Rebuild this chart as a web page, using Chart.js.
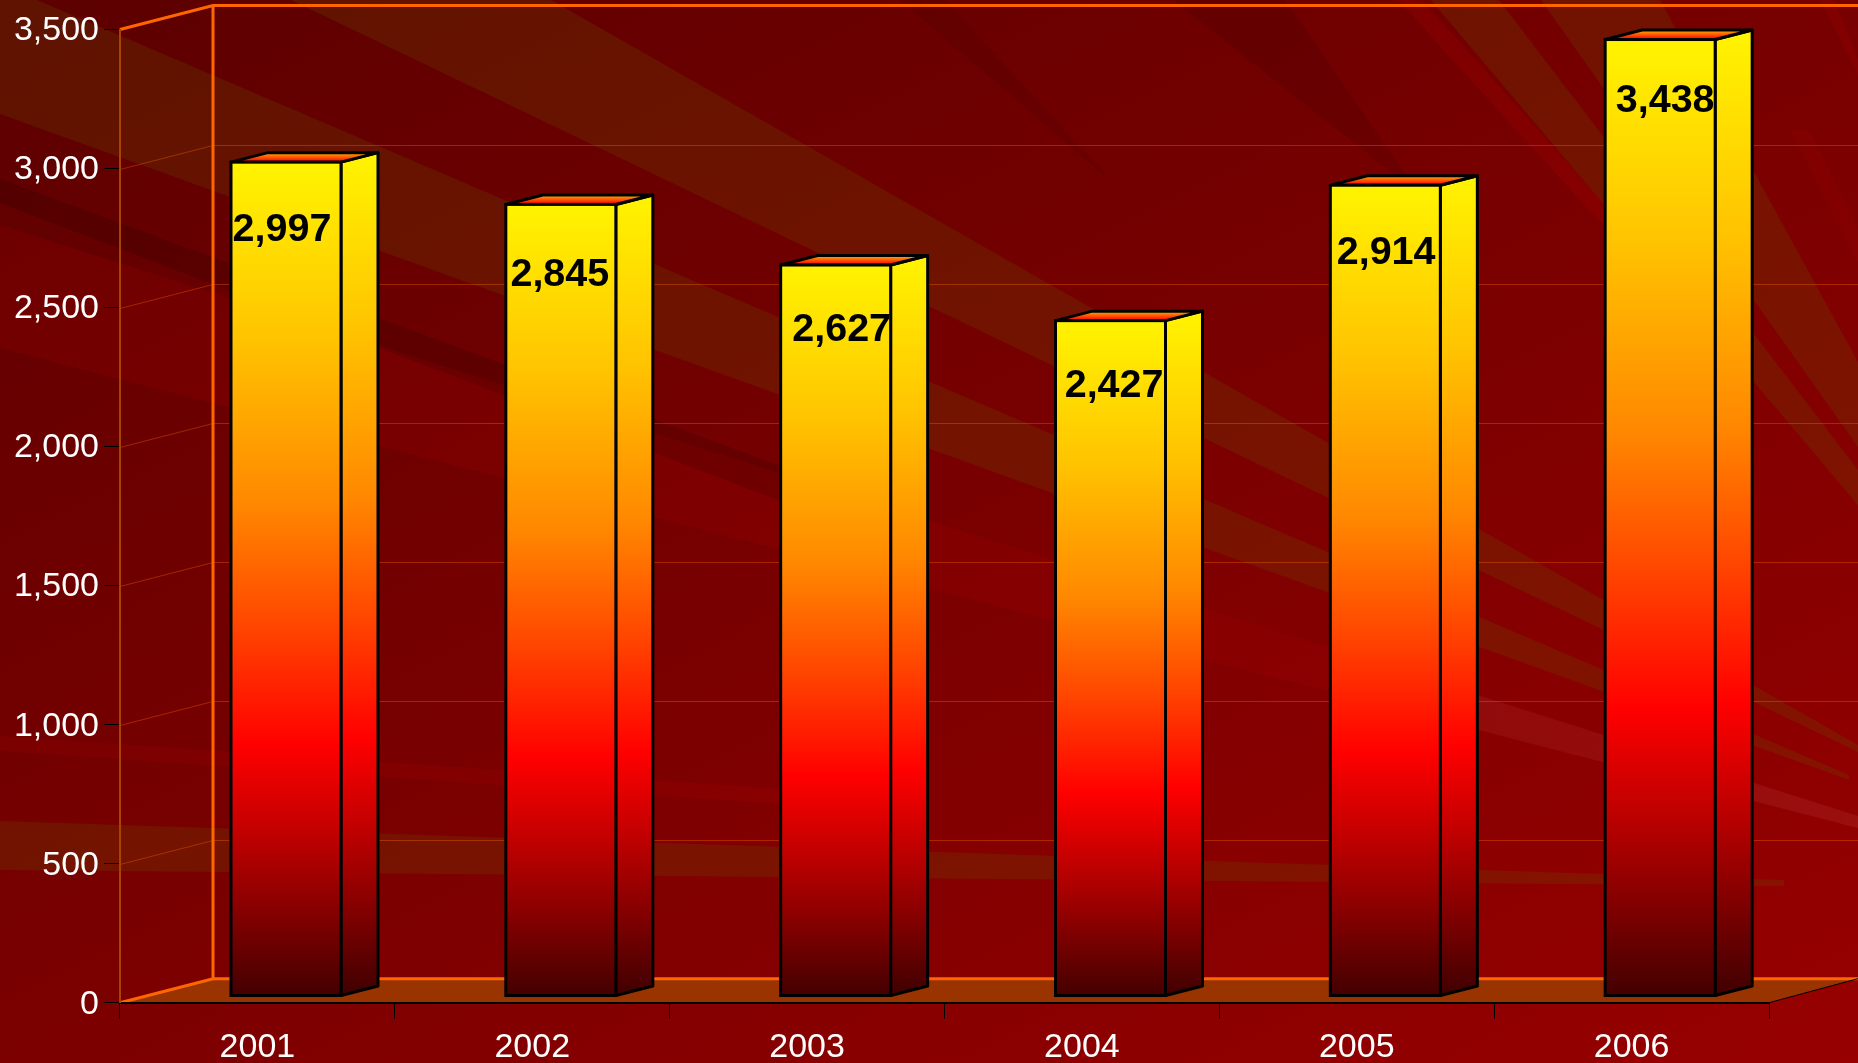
<!DOCTYPE html>
<html>
<head>
<meta charset="utf-8">
<style>html,body{margin:0;padding:0;background:#7a0000}canvas{display:block}</style>
<script src="https://cdn.jsdelivr.net/npm/chart.js@4"></script>
</head>
<body>
<canvas id="c" width="1858" height="1063"></canvas>
<script>
const categories = ['2001','2002','2003','2004','2005','2006'];
const salesValues = [2997,2845,2627,2427,2914,3438];
const axisMax = 3500;
const axisStep = 500;
const labelNudgeX = [-4,-1,6,3.6,0.8,5];
const labelNudgeY = [65,67.8,62.4,62.5,65,58.7];

const DEPTH_X = 93, DEPTH_Y = 24;   // depth of the 3D room
const BAR_DX = 37, BAR_DY = 9.5;    // depth of each 3D bar
const FONT = '"Liberation Sans", Arial, sans-serif';

// decorative translucent rays of the slide background
const OLIVE = 'rgba(105,75,0,0.26)';
const rays = [
  {c:OLIVE, p:[[551,0],[291,0],[1858,752],[1858,745]]},
  {c:OLIVE, p:[[37,0],[0,0],[0,114],[1849,780],[1849,775]]},
  {c:OLIVE, p:[[0,821],[0,870],[1784,886],[1784,880]]},
  {c:OLIVE, p:[[1431,0],[1499,0],[1858,470],[1858,505]]},
  {c:OLIVE, p:[[1541,0],[1660,0],[1858,362],[1858,447]]},
  {c:'rgba(0,0,0,0.13)', p:[[0,179],[0,203],[830,520],[830,484]]},
  {c:'rgba(0,0,0,0.09)', p:[[1173,0],[1285,0],[1420,195]]},
  {c:'rgba(0,0,0,0.07)', p:[[900,0],[945,0],[1115,185]]},
  {c:'rgba(255,0,0,0.07)', p:[[0,736],[0,751],[900,812],[900,797]]},
  {c:'rgba(255,0,0,0.09)', p:[[1398,0],[1422,0],[1620,222],[1600,222]]},
  {c:'rgba(255,0,0,0.07)', p:[[1820,0],[1835,0],[1858,60],[1858,74]]},
  {c:'rgba(255,0,0,0.05)', p:[[1790,130],[1810,130],[1858,230],[1858,262]]}
];

function polygon(ctx, pts){
  ctx.beginPath();
  pts.forEach((p,i)=> i ? ctx.lineTo(p[0],p[1]) : ctx.moveTo(p[0],p[1]));
  ctx.closePath();
}
function barGradient(ctx, top, bottom){
  const g = ctx.createLinearGradient(0, top, 0, bottom);
  g.addColorStop(0,   '#fff400');
  g.addColorStop(.21, '#ffc400');
  g.addColorStop(.41, '#ff8800');
  g.addColorStop(.56, '#ff4400');
  g.addColorStop(.70, '#ff0000');
  g.addColorStop(.81, '#be0000');
  g.addColorStop(.89, '#8c0000');
  g.addColorStop(1,   '#440000');
  return g;
}

const roomPlugin = {
  id:'room',
  beforeDraw(chart){
    const {ctx, chartArea:a, scales} = chart;
    const W = chart.width, H = chart.height;
    ctx.save();
    // background
    const bg = ctx.createLinearGradient(0,0,799,1593);
    bg.addColorStop(0,'#5c0000'); bg.addColorStop(1,'#980000');
    ctx.fillStyle = bg; ctx.fillRect(0,0,W,H);
    rays.forEach(r=>{ polygon(ctx,r.p); ctx.fillStyle=r.c; ctx.fill(); });
    // long red to pale band
    const wb = ctx.createLinearGradient(0,0,W,0);
    wb.addColorStop(0,'rgba(255,0,0,0.08)');
    wb.addColorStop(1327/W,'rgba(255,0,0,0.06)');
    wb.addColorStop(1479/W,'rgba(255,140,140,0.08)');
    wb.addColorStop(1,'rgba(255,160,160,0.09)');
    polygon(ctx,[[0,225],[0,348],[W,828],[W,816]]);
    ctx.fillStyle = wb; ctx.fill();

    const L = a.left, R = a.right, B = a.bottom, bx = L+DEPTH_X;
    // floor
    polygon(ctx,[[L,B],[bx,B-DEPTH_Y],[W,B-DEPTH_Y],[R,B]]);
    ctx.fillStyle = '#993300'; ctx.fill();
    // wall grid
    ctx.lineWidth = 1;
    ctx.strokeStyle = 'rgba(255,102,0,0.36)';
    scales.y.ticks.forEach(t=>{
      if(t.value===0 || t.value===axisMax) return;
      const y = Math.round(scales.y.getPixelForValue(t.value))+.5;
      ctx.beginPath();
      ctx.moveTo(L,y); ctx.lineTo(bx,y-DEPTH_Y); ctx.lineTo(W,y-DEPTH_Y);
      ctx.stroke();
    });
    // bright room edges
    const topY = scales.y.getPixelForValue(axisMax);
    ctx.strokeStyle = '#ff6600'; ctx.lineWidth = 3; ctx.lineJoin='miter';
    ctx.beginPath();
    ctx.moveTo(L,topY); ctx.lineTo(bx,topY-DEPTH_Y); ctx.lineTo(W,topY-DEPTH_Y);
    ctx.moveTo(bx,topY-DEPTH_Y); ctx.lineTo(bx,B-DEPTH_Y);
    ctx.moveTo(L,B); ctx.lineTo(bx,B-DEPTH_Y); ctx.lineTo(W,B-DEPTH_Y);
    ctx.stroke();
    // right floor edge
    ctx.strokeStyle='#000'; ctx.lineWidth=1;
    ctx.beginPath(); ctx.moveTo(R,B); ctx.lineTo(W,B-DEPTH_Y); ctx.stroke();
    ctx.restore();
  },
  beforeDatasetDraw(chart){
    const {ctx} = chart;
    ctx.save();
    ctx.lineWidth = 3; ctx.strokeStyle = '#000'; ctx.lineJoin='round';
    chart.getDatasetMeta(0).data.forEach(b=>{
      const l = b.x-b.width/2, r = b.x+b.width/2, t = b.y, base = b.base;
      // side face
      polygon(ctx,[[r,t],[r+BAR_DX,t-BAR_DY],[r+BAR_DX,base-BAR_DY],[r,base]]);
      ctx.fillStyle = barGradient(ctx,t-BAR_DY,base-BAR_DY*0.5); ctx.fill(); ctx.stroke();
      // top face
      polygon(ctx,[[l,t],[l+BAR_DX,t-BAR_DY],[r+BAR_DX,t-BAR_DY],[r,t]]);
      const g = ctx.createLinearGradient(0,t-BAR_DY+1,0,t-1);
      g.addColorStop(0,'#ffa000'); g.addColorStop(1,'#ff0800');
      ctx.fillStyle = g; ctx.fill(); ctx.stroke();
    });
    ctx.restore();
  },
  afterDatasetDraw(chart){
    const {ctx} = chart;
    ctx.save();
    chart.getDatasetMeta(0).data.forEach((b,i)=>{
      ctx.lineWidth = 3; ctx.strokeStyle = '#000'; ctx.lineJoin='miter';
      ctx.strokeRect(b.x-b.width/2, b.y, b.width, b.base-b.y);
      ctx.fillStyle = '#000';
      ctx.font = 'bold 39.5px '+FONT;
      ctx.textAlign = 'center'; ctx.textBaseline = 'alphabetic';
      ctx.fillText(salesValues[i].toLocaleString('en-US'), b.x+labelNudgeX[i], b.y+labelNudgeY[i]+14);
    });
    ctx.restore();
  }
};

new Chart(document.getElementById('c'),{
  type:'bar',
  data:{
    labels:categories,
    datasets:[{
      label:'Sales',
      data:salesValues.map((v,i)=>({x:i,y:v})),
      xAxisID:'xBars', yAxisID:'yBars',
      barThickness:110,
      borderWidth:0,
      backgroundColor(c){
        const s = c.chart.scales.yBars;
        if(!s || !c.chart.chartArea) return '#ff0000';
        return barGradient(c.chart.ctx, s.getPixelForValue(salesValues[c.dataIndex]), s.getPixelForValue(0));
      }
    }]
  },
  options:{
    responsive:false,
    animation:false,
    devicePixelRatio:1,
    layout:{padding:{top:29.5,right:89,left:0,bottom:0}},
    plugins:{legend:{display:false},tooltip:{enabled:false},title:{display:false}},
    scales:{
      x:{
        type:'category', offset:true,
        afterFit(s){s.height=60.3;},
        grid:{offset:true,drawOnChartArea:false,tickLength:16,color:'#000',lineWidth:1},
        border:{color:'#000',width:2},
        ticks:{color:'#fff',font:{family:FONT,size:34},padding:9,maxRotation:0}
      },
      y:{
        type:'linear',min:0,max:axisMax,
        afterFit(s){s.width=120;},
        grid:{drawOnChartArea:false,tickLength:16,color:'#000',lineWidth:1},
        border:{color:'#a84400',width:2},
        ticks:{stepSize:axisStep,color:'#fff',font:{family:FONT,size:34},padding:5,labelOffset:1.5,
               callback:v=>v.toLocaleString('en-US')}
      },
      xBars:{type:'linear',display:false,offset:false,min:-0.604,max:5.396},
      yBars:{type:'linear',display:false,min:-25.9,max:axisMax-25.9}
    }
  },
  plugins:[roomPlugin]
});
</script>
</body>
</html>
